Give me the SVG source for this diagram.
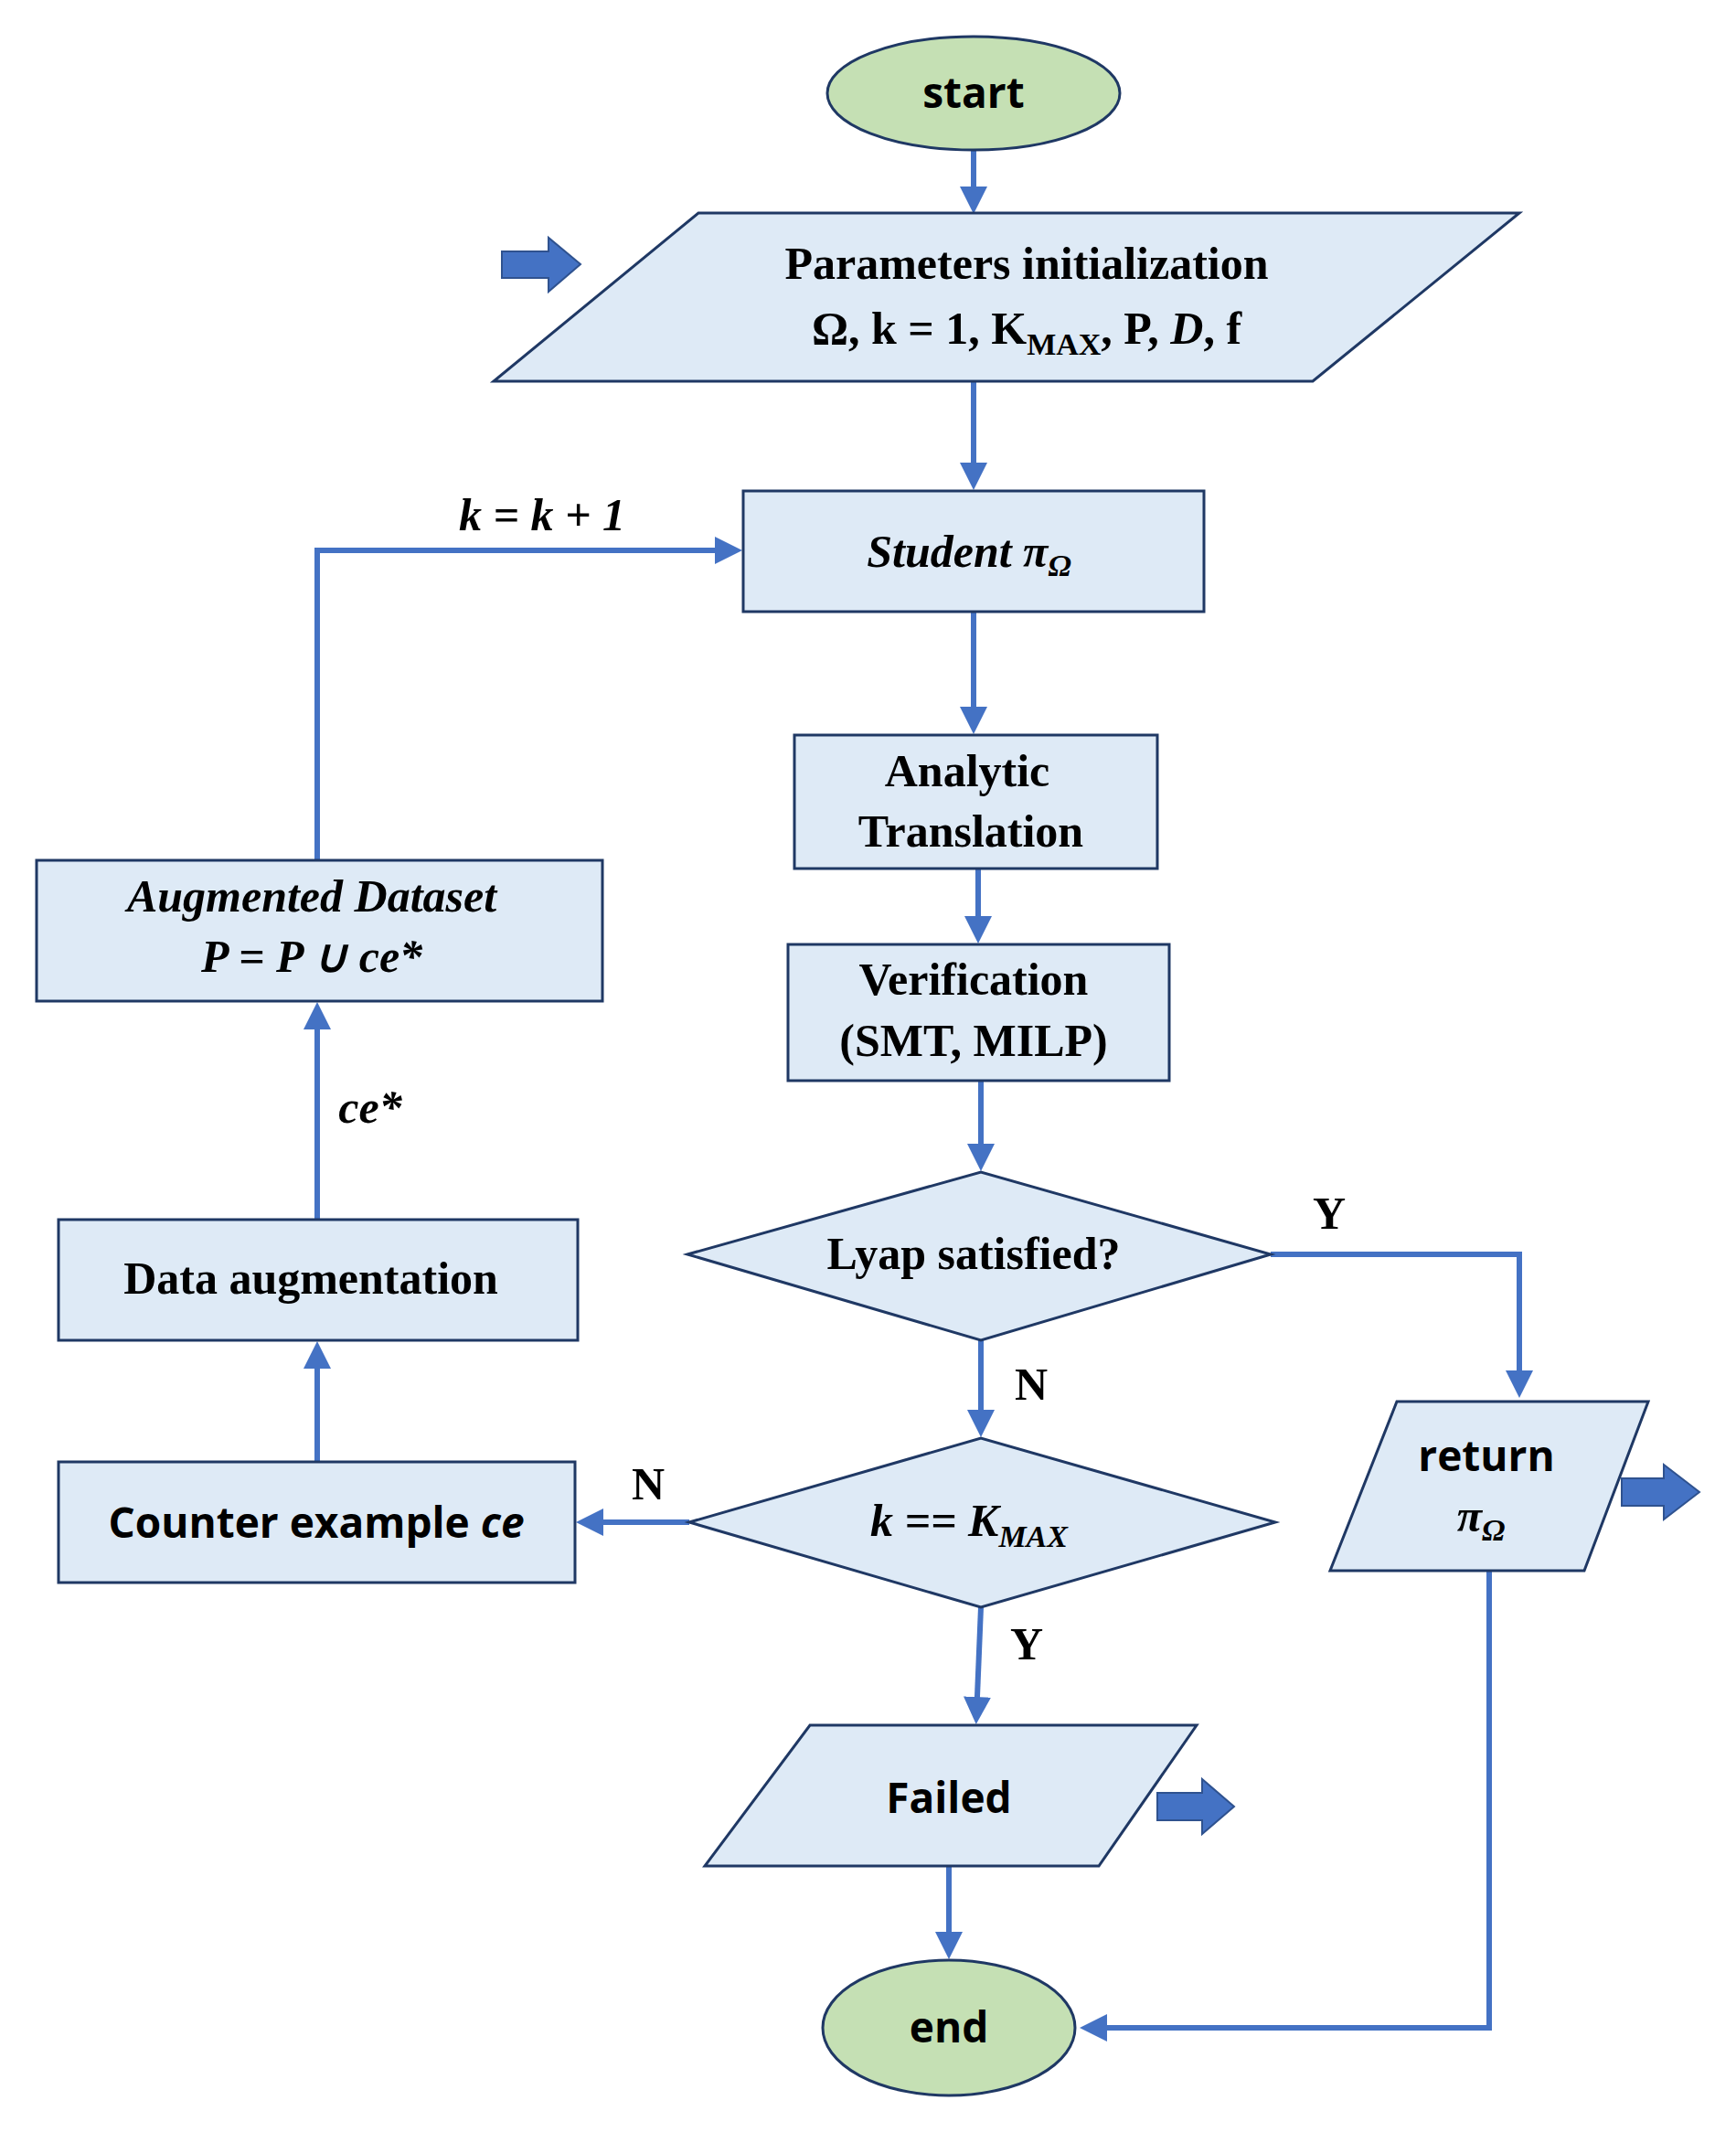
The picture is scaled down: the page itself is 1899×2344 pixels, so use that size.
<svg xmlns="http://www.w3.org/2000/svg" width="1899" height="2344" viewBox="0 0 1899 2344">
<style>
.n{fill:#DEEAF6;stroke:#1F3864;stroke-width:3}
.t{fill:#C5E0B4;stroke:#1F3864;stroke-width:3}
.c{fill:none;stroke:#4472C4;stroke-width:6;marker-end:url(#ah)}
.s{font-family:"Liberation Serif",serif;font-weight:bold;font-size:50px;text-anchor:middle;fill:#000}
.i{font-style:italic}
.a{font-family:"Open Sans","Liberation Sans",sans-serif;font-weight:bold;font-size:46px;text-anchor:middle;fill:#000}
.b{fill:#4472C4;stroke:#2F528F;stroke-width:2}
</style>
<defs><marker id="ah" markerWidth="5" markerHeight="5" refX="4" refY="2.5" orient="auto"><path d="M0,0L5,2.5L0,5z" fill="#4472C4"/></marker></defs>
<g id="connectors">
<path class="c" d="M1065,164V228"/>
<path class="c" d="M1065,417V530"/>
<path class="c" d="M1065,669V797"/>
<path class="c" d="M1070,950V1026"/>
<path class="c" d="M1073,1182V1275"/>
<path class="c" d="M1390,1372H1662V1523"/>
<path class="c" d="M1073,1466V1566"/>
<path class="c" d="M754,1665H636"/>
<path class="c" d="M347,1599V1473"/>
<path class="c" d="M347,1334V1102"/>
<path class="c" d="M347,941V602H806"/>
<path class="c" d="M1073,1758L1068,1880"/>
<path class="c" d="M1038,2041V2137"/>
<path class="c" d="M1629,1718V2218H1187"/>
</g>
<g id="start"><ellipse class="t" cx="1065" cy="102" rx="160" ry="62"/><text class="a" x="1065" y="118">start</text></g>
<g id="params"><path class="n" d="M764,233H1662L1436,417H540z"/>
<path class="b" d="M549,275H600V260L635,289L600,319V304H549z"/>
<text class="s" x="1123" y="305">Parameters initialization</text>
<text class="s" x="1123" y="376">Ω, k = 1, K<tspan font-size="34" dy="12">MAX</tspan><tspan dy="-12">, P, </tspan><tspan class="i">D</tspan>, f</text></g>
<g id="student"><rect class="n" x="813" y="537" width="504" height="132"/><text class="s i" x="1060" y="620">Student π<tspan font-size="34" dy="10">Ω</tspan></text></g>
<text class="s i" x="593" y="580">k = k + 1</text>
<g id="analytic"><rect class="n" x="869" y="804" width="397" height="146"/><text class="s" x="1058" y="860">Analytic</text><text class="s" x="1062" y="926">Translation</text></g>
<g id="verification"><rect class="n" x="862" y="1033" width="417" height="149"/><text class="s" x="1065" y="1088">Verification</text><text class="s" x="1065" y="1155">(SMT, MILP)</text></g>
<g id="lyap"><path class="n" d="M752,1372L1073,1282L1390,1372L1073,1466z"/><text class="s" x="1065" y="1388" font-size="46">Lyap satisfied?</text></g>
<text class="s" x="1454" y="1344">Y</text>
<text class="s" x="1128" y="1531">N</text>
<g id="kmax"><path class="n" d="M754,1665L1073,1573L1395,1665L1073,1758z"/><text class="s i" x="1060" y="1680">k ==  K<tspan font-size="34" dy="12">MAX</tspan></text></g>
<text class="s" x="709" y="1640">N</text>
<text class="s" x="1123" y="1815">Y</text>
<g id="return"><path class="n" d="M1528,1533H1803L1733,1718H1455z"/>
<path class="b" d="M1774,1617H1820V1602L1859,1632L1820,1662V1647H1774z"/>
<text class="a" x="1626" y="1609">return</text><text class="s i" x="1620" y="1675">π<tspan font-size="34" dy="10">Ω</tspan></text></g>
<g id="counter"><rect class="n" x="64" y="1599" width="565" height="132"/><text class="a" x="346" y="1682">Counter example <tspan font-style="italic">ce</tspan></text></g>
<g id="dataaug"><rect class="n" x="64" y="1334" width="568" height="132"/><text class="s" x="340" y="1415">Data augmentation</text></g>
<text class="s i" x="405" y="1228" font-size="42">ce*</text>
<g id="augmented"><rect class="n" x="40" y="941" width="619" height="154"/><text class="s i" x="341" y="997">Augmented Dataset</text><text class="s i" x="341" y="1063">P  = P ∪ ce*</text></g>
<g id="failed"><path class="n" d="M886,1887H1309L1202,2041H771z"/>
<path class="b" d="M1266,1961H1315V1946L1350,1976L1315,2006V1991H1266z"/>
<text class="a" x="1038" y="1983">Failed</text></g>
<g id="end"><ellipse class="t" cx="1038" cy="2218" rx="138" ry="74"/><text class="a" x="1038" y="2234">end</text></g>
</svg>
